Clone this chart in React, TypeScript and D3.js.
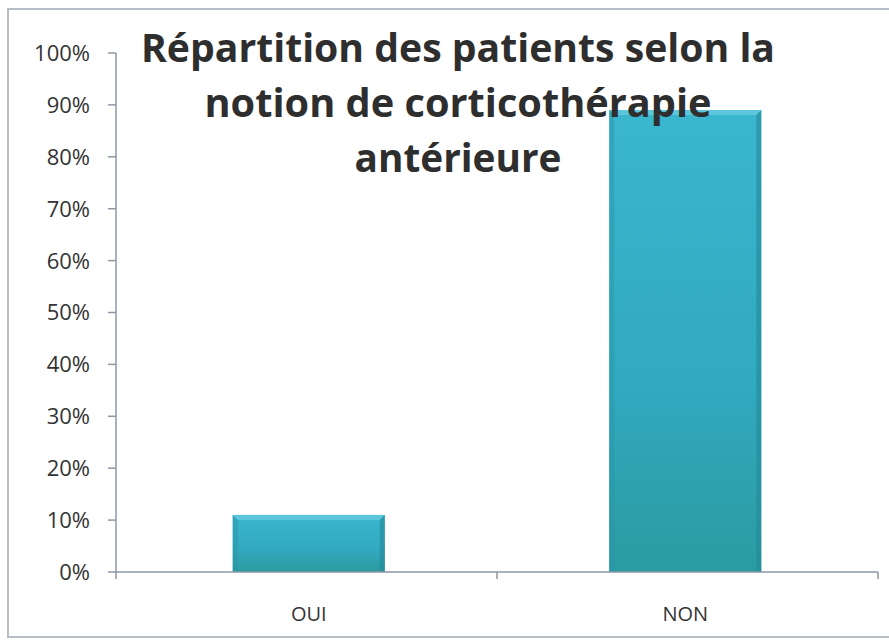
import { useMemo } from "react";
import * as d3 from "d3";

const categories = ["OUI", "NON"];
const values = [0.11, 0.89];
const titleLines = [
  "Répartition des patients selon la",
  "notion de corticothérapie",
  "antérieure",
];
// measured widths of the title lines in the reference
const titleWidths = [634, 507, 207];

const W = 889;
const H = 640;
const margin = { top: 53, right: 11, bottom: 68, left: 116 };
const font = "'Open Sans', 'Noto Sans', sans-serif";

function App() {
  const x = useMemo(
    () =>
      d3
        .scaleBand()
        .domain(categories)
        .range([margin.left, W - margin.right])
        .paddingInner(0.596)
        .paddingOuter(0.31),
    []
  );
  const y = useMemo(
    () => d3.scaleLinear().domain([0, 1]).range([H - margin.bottom, margin.top]),
    []
  );
  const fmt = d3.format(".0%");
  const yTicks = y.ticks(10);
  const [x0, x1] = x.range();
  // category boundaries for the x-axis ticks
  const xTicks = d3.range(categories.length + 1).map((i) => x0 + (i * (x1 - x0)) / categories.length);
  const axisColor = "#8c97a6";
  const textColor = "#333";

  return (
    <div style={{ position: "absolute", left: 0, top: 0 }}>
      <svg width={W} height={H} style={{ display: "block", background: "#fff" }}>
        <defs>
          <linearGradient id="barFill" x1="0" y1="0" x2="0" y2="1">
            <stop offset="0" stopColor="#3ab6cf" />
            <stop offset="0.6" stopColor="#31a9bf" />
            <stop offset="1" stopColor="#2a9ba0" />
          </linearGradient>
        </defs>

        {/* outer frame */}
        <rect x={8} y={9} width={W + 10} height={628} fill="none" stroke="#b5bcc4" strokeWidth={2} />

        {/* bars */}
        {categories.map((c, i) => {
          const bx = x(c)!;
          const bw = x.bandwidth();
          const by = y(values[i]);
          const bh = y(0) - by;
          const b = 5;
          return (
            <g key={c}>
              <rect x={bx} y={by} width={bw} height={bh} fill="url(#barFill)" />
              <polygon
                points={`${bx},${by} ${bx + bw},${by} ${bx + bw - b},${by + b} ${bx + b},${by + b}`}
                fill="#5cc6dc"
              />
              <polygon
                points={`${bx},${by} ${bx + b},${by + b} ${bx + b},${by + bh} ${bx},${by + bh}`}
                fill="#2996a8"
                opacity={0.5}
              />
              <polygon
                points={`${bx + bw},${by} ${bx + bw - b},${by + b} ${bx + bw - b},${by + bh} ${bx + bw},${by + bh}`}
                fill="#23899a"
                opacity={0.6}
              />
            </g>
          );
        })}

        {/* y axis */}
        <line x1={x0} x2={x0} y1={y(1)} y2={y(0)} stroke={axisColor} strokeWidth={1.5} />
        {yTicks.map((t) => (
          <g key={t}>
            <line x1={x0 - 8} x2={x0} y1={y(t)} y2={y(t)} stroke={axisColor} strokeWidth={1.5} />
            <text
              x={x0 - 26}
              y={y(t)}
              dy="0.36em"
              textAnchor="end"
              fontFamily={font}
              fontSize={22}
              fill={textColor}
            >
              {fmt(t)}
            </text>
          </g>
        ))}

        {/* x axis */}
        <line x1={x0} x2={x1} y1={y(0)} y2={y(0)} stroke={axisColor} strokeWidth={1.5} />
        {xTicks.map((t) => (
          <line key={t} x1={t} x2={t} y1={y(0)} y2={y(0) + 7} stroke={axisColor} strokeWidth={1.5} />
        ))}
        {categories.map((c) => (
          <text
            key={c}
            x={x(c)! + x.bandwidth() / 2}
            y={y(0) + 49}
            textAnchor="middle"
            fontFamily={font}
            fontSize={20}
            fill={textColor}
          >
            {c}
          </text>
        ))}

        {/* title */}
        {titleLines.map((line, i) => (
          <text
            key={i}
            x={458}
            y={62 + i * 55}
            textAnchor="middle"
            fontFamily={font}
            fontWeight="bold"
            fontSize={39}
            textLength={titleWidths[i]}
            lengthAdjust="spacingAndGlyphs"
            fill="#2e2e2e"
          >
            {line}
          </text>
        ))}
      </svg>
    </div>
  );
}

export default App;
